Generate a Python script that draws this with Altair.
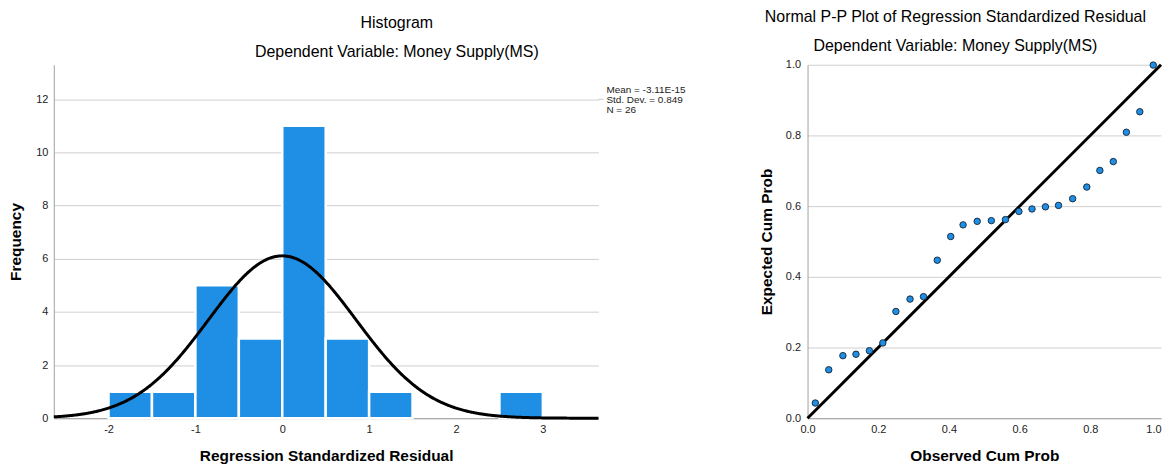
import altair as alt
import pandas as pd

# ---------------- data ----------------
bin_start = [-2.0, -1.5, -1.0, -0.5, 0.0, 0.5, 1.0, 2.5]
bin_end = [-1.5, -1.0, -0.5, 0.0, 0.5, 1.0, 1.5, 3.0]
frequency = [1, 1, 5, 3, 11, 3, 1, 1]

resid_mean = -3.11e-15
resid_sd = 0.849
n_obs = 26
bin_width = 0.5
legend_lines = "Mean = -3.11E-15\nStd. Dev. = 0.849\nN = 26"

observed_cum = [0.022, 0.06, 0.10, 0.137, 0.175, 0.213, 0.25, 0.29, 0.328, 0.367,
                0.405, 0.44, 0.48, 0.52, 0.56, 0.598, 0.635, 0.673, 0.71, 0.75,
                0.79, 0.827, 0.865, 0.902, 0.94, 0.978]
expected_cum = [0.043, 0.137, 0.177, 0.181, 0.191, 0.213, 0.302, 0.337, 0.344, 0.447,
                0.514, 0.547, 0.557, 0.559, 0.562, 0.585, 0.592, 0.598, 0.602, 0.621,
                0.654, 0.701, 0.726, 0.809, 0.867, 0.999]
diag_x = [0.0, 1.0]
diag_y = [0.0, 1.0]

FONT = "Liberation Sans"
BLUE = "#1f8fe6"
W1, H = 547, 355
W2 = 355

hist_df = pd.DataFrame({"start": bin_start, "end": bin_end, "freq": frequency})
pp_df = pd.DataFrame({"obs": observed_cum, "exp": expected_cum})
diag_df = pd.DataFrame({"x": diag_x, "y": diag_y})

x_dom = [-2.63, 3.64]

xscale = alt.Scale(domain=x_dom, nice=False, zero=False)
yscale = alt.Scale(domain=[0, 13.3], nice=False)

x_axis = alt.Axis(values=[-2, -1, 0, 1, 2, 3], labelExpr="datum.value + ''",
                  title="Regression Standardized Residual",
                  grid=False, ticks=False, labelPadding=5, titlePadding=14)
y_axis = alt.Axis(values=[0, 2, 4, 6, 8, 10, 12], title="Frequency", grid=True,
                  ticks=False, labelPadding=6, titlePadding=12)

bars = alt.Chart(hist_df).mark_bar(color=BLUE, stroke="white", strokeWidth=2.5).encode(
    x=alt.X("start:Q", scale=xscale, axis=x_axis),
    x2="end:Q",
    y=alt.Y("freq:Q", scale=yscale, axis=y_axis),
    y2=alt.datum(0),
)

curve = alt.Chart(alt.sequence(x_dom[0], x_dom[1] + 0.001, 0.01, as_="x")).transform_calculate(
    y=f"{n_obs * bin_width} * densityNormal(datum.x, {resid_mean}, {resid_sd})"
).mark_line(color="black", strokeWidth=3).encode(
    x=alt.X("x:Q", scale=xscale),
    y=alt.Y("y:Q", scale=yscale),
)

legend = alt.Chart(pd.DataFrame({"t": [legend_lines]})).mark_text(
    align="left", baseline="top", lineBreak="\n", lineHeight=10, fontSize=10,
    font=FONT, color="#222"
).encode(x=alt.value(W1 + 8), y=alt.value(20), text="t:N")

leader = alt.Chart(pd.DataFrame({"y": [12]})).mark_rule(color="#c8c8c8").encode(
    x=alt.value(W1), x2=alt.value(W1 + 5), y=alt.Y("y:Q", scale=yscale)
)

left = alt.layer(bars, curve, legend, leader).properties(
    width=W1, height=H,
    title=alt.TitleParams(
        text=["Histogram", "Dependent Variable: Money Supply(MS)"],
        fontSize=16, font=FONT, fontWeight="normal", color="black",
        lineHeight=29, anchor="middle", frame="group", dx=71, offset=5,
    ),
)

pscale_x = alt.Scale(domain=[0, 1], nice=False)
pscale_y = alt.Scale(domain=[0, 1], nice=False)

px_axis = alt.Axis(values=[0, 0.2, 0.4, 0.6, 0.8, 1.0], format=".1f", title="Observed Cum Prob",
                   grid=False, ticks=False, labelPadding=5, titlePadding=14,
                   labelAlign={"condition": {"test": "datum.value >= 1", "value": "right"},
                               "value": "center"})
py_axis = alt.Axis(values=[0, 0.2, 0.4, 0.6, 0.8, 1.0], format=".1f", title="Expected Cum Prob",
                   grid=True, ticks=False, labelPadding=7, titlePadding=11)

diag = alt.Chart(diag_df).mark_line(color="black", strokeWidth=3).encode(
    x=alt.X("x:Q", scale=pscale_x, axis=px_axis),
    y=alt.Y("y:Q", scale=pscale_y, axis=py_axis),
)
pts = alt.Chart(pp_df).mark_point(filled=True, fill=BLUE, stroke="#1b2f45",
                                  strokeWidth=1, size=42, opacity=1).encode(
    x=alt.X("obs:Q", scale=pscale_x),
    y=alt.Y("exp:Q", scale=pscale_y),
)

right = alt.layer(diag, pts).properties(
    width=W2, height=H,
    title=alt.TitleParams(
        text=["Normal P-P Plot of Regression Standardized Residual",
              "Dependent Variable: Money Supply(MS)"],
        fontSize=16, font=FONT, fontWeight="normal", color="black",
        lineHeight=29, anchor="middle", frame="group", dx=-29, offset=5,
    ),
)

chart = alt.hconcat(left, right, spacing=210, bounds="flush").properties(
    padding={"left": 0, "top": 0, "right": -2, "bottom": 0}
).configure_view(stroke=None).configure_axis(
    labelFont=FONT, labelFontSize=11, labelColor="#222",
    titleFont=FONT, titleFontSize=15.5, titleFontWeight="bold", titleColor="black",
    domainColor="#a0a0a0", gridColor="#cfcfcf", gridWidth=1,
)

chart.save("out.html", embed_options={"renderer": "svg", "actions": False})
